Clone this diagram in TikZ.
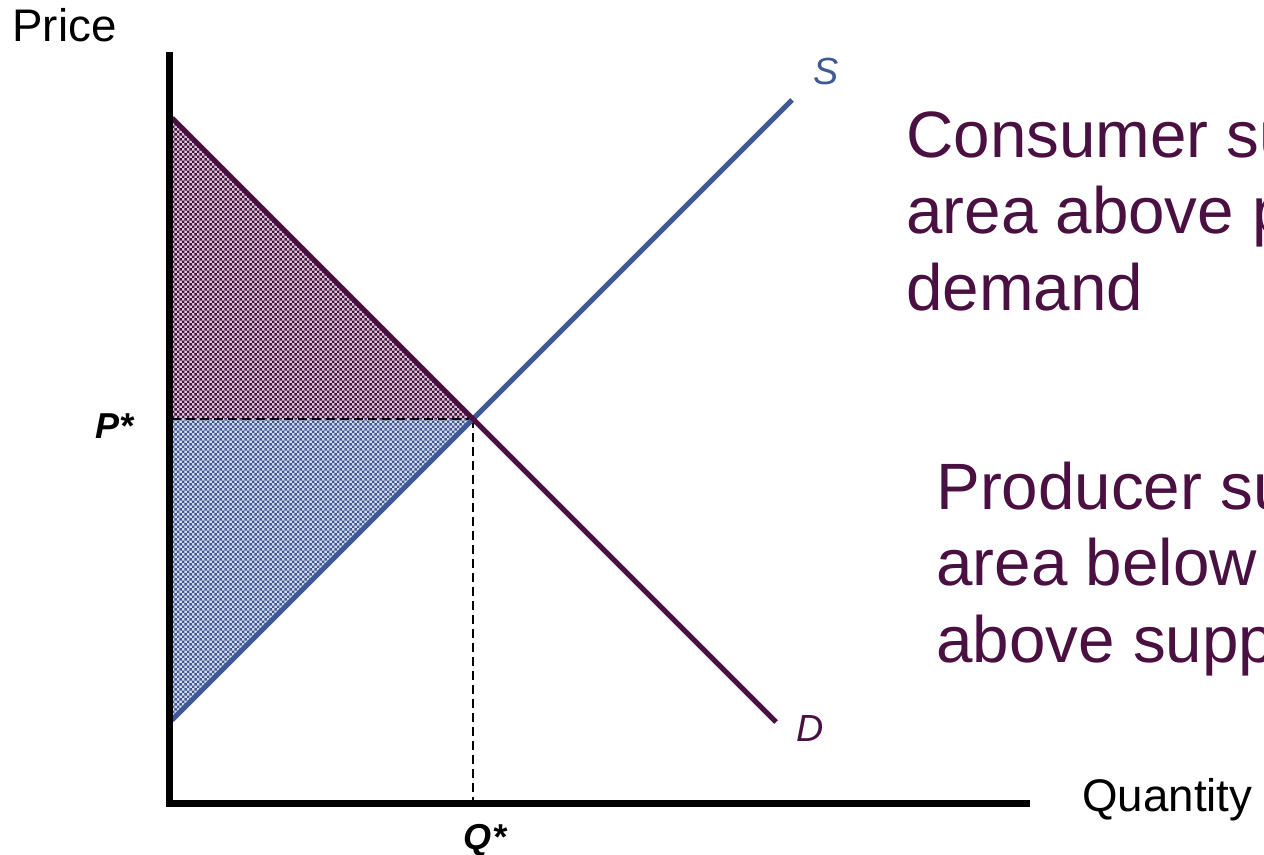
\documentclass[tikz,border=0pt]{standalone}
\usepackage{fontspec}
\setmainfont{Liberation Sans}
\usepackage{xcolor}
\usetikzlibrary{patterns.meta}

\definecolor{demandcol}{RGB}{74,16,66}
\definecolor{supplycol}{RGB}{63,88,150}

\tikzdeclarepattern{name=checker, type=uncolored,
    bounding box={(0pt,0pt) and (2.8pt,2.8pt)}, tile size={(2.8pt,2.8pt)},
    code={\fill (0pt,0pt) rectangle (1.4pt,1.4pt);
          \fill (1.4pt,1.4pt) rectangle (2.8pt,2.8pt);}}

\begin{document}
\begin{tikzpicture}[
        x=0.02cm, y=-0.02cm,
        axisline/.style={line width=0.14cm, color=black},
        curve/.style={line width=0.1cm},
        guide/.style={line width=0.05cm, dash pattern=on 0.18cm off 0.1cm},
        axislabel/.style={inner sep=0pt, anchor=base west, font=\fontsize{26}{30}\selectfont},
        starlabel/.style={inner sep=0pt, font=\fontsize{20.5}{24}\selectfont\bfseries\itshape},
        curvelabel/.style={inner sep=0pt, anchor=base west, font=\fontsize{21.5}{25}\selectfont\itshape},
        notetext/.style={inner sep=0pt, anchor=base west, align=left, text=demandcol,
            font=\fontsize{37.3}{43.3}\selectfont},
    ]
    \useasboundingbox (0,0) rectangle (1264,855);
    \clip (0,0) rectangle (1264,855);

    % Points
    \coordinate (origin) at (169,803);
    \coordinate (ytop) at (169,52);
    \coordinate (xend) at (1030,803);
    \coordinate (dtop) at (172,118);
    \coordinate (dbot) at (776,722);
    \coordinate (sbot) at (172,720);
    \coordinate (stop) at (792,100);
    \coordinate (eq) at (473,419);
    \coordinate (peq) at (172,419);
    \coordinate (qeq) at (473,800);

    % Surplus areas
    \fill[demandcol!22] (dtop) -- (eq) -- (peq) -- cycle;
    \fill[pattern=checker, pattern color=demandcol] (dtop) -- (eq) -- (peq) -- cycle;
    \fill[supplycol!22] (peq) -- (eq) -- (sbot) -- cycle;
    \fill[pattern=checker, pattern color=supplycol] (peq) -- (eq) -- (sbot) -- cycle;

    % Guides
    \draw[guide] (peq) -- (eq);
    \draw[guide] (eq) -- (qeq);

    % Curves
    \draw[curve, supplycol] (sbot) -- (stop);
    \draw[curve, demandcol] (dtop) -- (dbot);

    % Axes
    \draw[axisline] (ytop) -- ([yshift=-0.07cm]origin);
    \draw[axisline] ([xshift=-0.07cm]origin) -- (xend);

    % Labels
    \node[axislabel] (price) at (12,42) {Price};
    \node[axislabel] (quantity) at (1082,811) {Quantity};
    \node[starlabel, anchor=base east] (pstar) at (134,438) {P*};
    \node[starlabel, anchor=base] (qstar) at (485,849) {Q*};
    \node[curvelabel, text=supplycol] (slabel) at (813,85) {S};
    \node[curvelabel, text=demandcol] (dlabel) at (796,741) {D};

    % Notes
    \node[notetext] (consumer) at (906,310) {Consumer surplus\\area above price\\demand};
    \node[notetext] (producer) at (936,662) {Producer surplus\\area below price\\above supply};

\end{tikzpicture}
\end{document}
